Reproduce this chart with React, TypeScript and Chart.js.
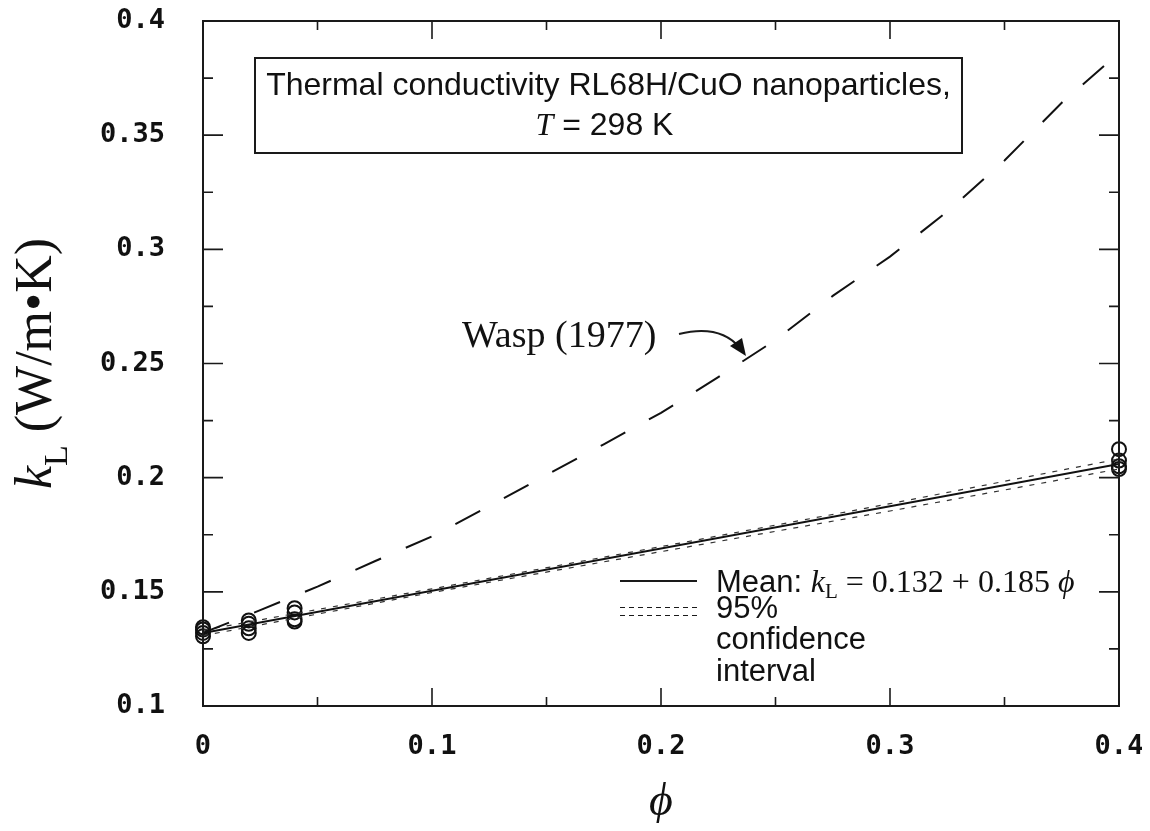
import React, { useEffect, useRef } from "react";
import { Chart, registerables } from "chart.js";
Chart.register(...registerables);

// ---- data ----
const measuredPhi = [0, 0, 0, 0, 0.02, 0.02, 0.02, 0.02, 0.04, 0.04, 0.04, 0.04, 0.4, 0.4, 0.4, 0.4];
const measuredK = [0.1305, 0.132, 0.1335, 0.1345, 0.132, 0.134, 0.136, 0.1375, 0.137, 0.138, 0.141, 0.1428, 0.2038, 0.205, 0.2075, 0.2125];

const meanPhi = [0, 0.4];
const meanK = [0.132, 0.206];

const ciPhi = [0, 0.1, 0.2, 0.3, 0.4];
const ciUpperK = [0.1332, 0.1513, 0.1698, 0.1886, 0.2082];
const ciLowerK = [0.1308, 0.1497, 0.1676, 0.1854, 0.2038];

const waspPhi = [0, 0.025, 0.05, 0.075, 0.1, 0.125, 0.15, 0.175, 0.2, 0.225, 0.25, 0.275, 0.3, 0.325, 0.35, 0.375, 0.4];
const waspK = [0.132, 0.142, 0.1523, 0.1634, 0.1743, 0.1875, 0.2012, 0.2146, 0.2284, 0.244, 0.2603, 0.2796, 0.2968, 0.3165, 0.3389, 0.3642, 0.386];

const xTickLabels = ["0", "0.1", "0.2", "0.3", "0.4"];
const yTickLabels = ["0.1", "0.15", "0.2", "0.25", "0.3", "0.35", "0.4"];

const titleLine1 = "Thermal conductivity RL68H/CuO nanoparticles,";
const waspLabel = "Wasp (1977)";
const legendLines = ["95%", "confidence", "interval"];

const SERIF = '"Liberation Serif", "Times New Roman", serif';
const SANS = '"Liberation Sans", Arial, sans-serif';
const TICKFONT = '"DejaVu Sans Mono", monospace';

type Run = { t: string; font: string; dy?: number };

function runsWidth(ctx: CanvasRenderingContext2D, runs: Run[]) {
  let w = 0;
  for (const r of runs) {
    ctx.font = r.font;
    w += ctx.measureText(r.t).width;
  }
  return w;
}

function drawRuns(ctx: CanvasRenderingContext2D, runs: Run[], x: number, y: number, align: "left" | "center") {
  let cx = align === "center" ? x - runsWidth(ctx, runs) / 2 : x;
  ctx.textAlign = "left";
  ctx.textBaseline = "alphabetic";
  for (const r of runs) {
    ctx.font = r.font;
    ctx.fillText(r.t, cx, y + (r.dy || 0));
    cx += ctx.measureText(r.t).width;
  }
}

const decorPlugin = {
  id: "decor",
  afterDatasetsDraw(chart: any) {
    const { ctx, chartArea: a, scales } = chart;
    const xs = scales.x;
    const ys = scales.y;
    ctx.save();
    ctx.strokeStyle = "#1a1a1a";
    ctx.fillStyle = "#111";

    // frame
    ctx.lineWidth = 2;
    ctx.strokeRect(a.left, a.top, a.right - a.left, a.bottom - a.top);

    // inward ticks
    ctx.lineWidth = 1.6;
    ctx.beginPath();
    const xStep = 0.05;
    const nx = Math.round((xs.max - xs.min) / xStep);
    for (let i = 0; i <= nx; i++) {
      const px = xs.getPixelForValue(xs.min + i * xStep);
      const len = i % 2 === 0 ? 18 : 9;
      ctx.moveTo(px, a.bottom);
      ctx.lineTo(px, a.bottom - len);
      ctx.moveTo(px, a.top);
      ctx.lineTo(px, a.top + len);
    }
    const yStep = 0.025;
    const ny = Math.round((ys.max - ys.min) / yStep);
    for (let i = 0; i <= ny; i++) {
      const py = ys.getPixelForValue(ys.min + i * yStep);
      const len = i % 2 === 0 ? 20 : 10;
      ctx.moveTo(a.left, py);
      ctx.lineTo(a.left + len, py);
      ctx.moveTo(a.right, py);
      ctx.lineTo(a.right - len, py);
    }
    ctx.stroke();

    // title box
    const bx = 247, by = 50, bw = 707, bh = 95;
    ctx.fillStyle = "#fff";
    ctx.fillRect(bx, by, bw, bh);
    ctx.lineWidth = 2;
    ctx.strokeRect(bx, by, bw, bh);
    ctx.fillStyle = "#111";
    const bcx = bx + bw / 2;
    drawRuns(ctx, [{ t: titleLine1, font: `32px ${SANS}` }], bcx, 87, "center");
    drawRuns(ctx, [
      { t: "T", font: `italic 32px ${SERIF}` },
      { t: " = 298 K", font: `32px ${SANS}` },
    ], bcx - 4, 127, "center");

    // Wasp label and curved arrow
    drawRuns(ctx, [{ t: waspLabel, font: `38px ${SERIF}` }], 454, 339, "left");
    ctx.lineWidth = 2;
    ctx.beginPath();
    ctx.moveTo(671, 326);
    ctx.quadraticCurveTo(712, 316, 732, 340);
    ctx.stroke();
    ctx.beginPath();
    ctx.moveTo(738, 348);
    ctx.lineTo(722, 338);
    ctx.lineTo(734, 330);
    ctx.closePath();
    ctx.fillStyle = "#111";
    ctx.fill();

    // legend
    ctx.lineWidth = 2;
    ctx.setLineDash([]);
    ctx.beginPath();
    ctx.moveTo(612, 573);
    ctx.lineTo(689, 573);
    ctx.stroke();
    ctx.lineWidth = 1.2;
    ctx.setLineDash([5, 4]);
    ctx.beginPath();
    ctx.moveTo(612, 599.5);
    ctx.lineTo(689, 599.5);
    ctx.moveTo(612, 607.5);
    ctx.lineTo(689, 607.5);
    ctx.stroke();
    ctx.setLineDash([]);
    drawRuns(ctx, [
      { t: "Mean: ", font: `31px ${SANS}` },
      { t: "k", font: `italic 32px ${SERIF}` },
      { t: "L", font: `21px ${SERIF}`, dy: 6 },
      { t: " = 0.132 + 0.185 ", font: `32px ${SERIF}` },
      { t: "\u03D5", font: `italic 32px ${SERIF}` },
    ], 708, 584, "left");
    drawRuns(ctx, [{ t: legendLines[0], font: `31px ${SANS}` }], 708, 610, "left");
    drawRuns(ctx, [{ t: legendLines[1], font: `31px ${SANS}` }], 708, 641, "left");
    drawRuns(ctx, [{ t: legendLines[2], font: `31px ${SANS}` }], 708, 673, "left");

    // x axis title
    drawRuns(ctx, [{ t: "\u03D5", font: `italic 46px ${SERIF}` }], (a.left + a.right) / 2, 807, "center");

    // y axis title (rotated)
    ctx.save();
    ctx.translate(43, (a.top + a.bottom) / 2);
    ctx.rotate(-Math.PI / 2);
    drawRuns(ctx, [
      { t: "k", font: `italic 52px ${SERIF}` },
      { t: "L", font: `34px ${SERIF}`, dy: 16 },
      { t: " (W/m\u2022K)", font: `52px ${SERIF}` },
    ], 0, 0, "center");
    ctx.restore();

    ctx.restore();
  },
};

const zeroPad = (s: any) => {
  s.paddingTop = 0;
  s.paddingBottom = 0;
  s.paddingLeft = 0;
  s.paddingRight = 0;
};

export default function App() {
  const ref = useRef<HTMLCanvasElement | null>(null);
  useEffect(() => {
    if (!ref.current) return;
    const toPts = (xs: number[], ys: number[]) => xs.map((x, i) => ({ x, y: ys[i] }));
    const chart = new Chart(ref.current, {
      type: "scatter",
      data: {
        datasets: [
          {
            label: "Wasp (1977)",
            data: toPts(waspPhi, waspK),
            showLine: true,
            borderColor: "#111",
            borderWidth: 2,
            borderDash: [28, 27],
            pointRadius: 0,
            fill: false,
          },
          {
            label: "CI upper",
            data: toPts(ciPhi, ciUpperK),
            showLine: true,
            borderColor: "#333",
            borderWidth: 1.2,
            borderDash: [5, 7],
            pointRadius: 0,
          },
          {
            label: "CI lower",
            data: toPts(ciPhi, ciLowerK),
            showLine: true,
            borderColor: "#333",
            borderWidth: 1.2,
            borderDash: [5, 7],
            pointRadius: 0,
          },
          {
            label: "Mean",
            data: toPts(meanPhi, meanK),
            showLine: true,
            borderColor: "#111",
            borderWidth: 2,
            pointRadius: 0,
          },
          {
            label: "Measured",
            data: toPts(measuredPhi, measuredK),
            showLine: false,
            pointStyle: "circle",
            pointRadius: 7,
            borderWidth: 2,
            borderColor: "#111",
            backgroundColor: "rgba(0,0,0,0)",
            clip: false,
          } as any,
        ],
      },
      options: {
        animation: false,
        responsive: false,
        layout: { padding: { top: 13, right: 23, left: 0, bottom: 0 } },
        plugins: {
          legend: { display: false },
          tooltip: { enabled: false },
          title: { display: false },
        },
        scales: {
          x: {
            type: "linear",
            position: "bottom",
            min: 0,
            max: 0.4,
            grid: { display: false, drawTicks: false },
            border: { display: false },
            afterFit: (s: any) => { s.height = 117; zeroPad(s); },
            ticks: {
              stepSize: 0.1,
              autoSkip: false,
              maxRotation: 0,
              padding: 25,
              color: "#111",
              font: { family: TICKFONT, size: 27, weight: "bold" },
              callback: (_v: any, i: number) => xTickLabels[i],
            },
          },
          y: {
            type: "linear",
            position: "left",
            min: 0.1,
            max: 0.4,
            grid: { display: false, drawTicks: false },
            border: { display: false },
            afterFit: (s: any) => { s.width = 195; zeroPad(s); },
            ticks: {
              stepSize: 0.05,
              autoSkip: false,
              padding: 38,
              color: "#111",
              font: { family: TICKFONT, size: 27, weight: "bold" },
              callback: (_v: any, i: number) => yTickLabels[i],
            },
          },
        },
      },
      plugins: [decorPlugin],
    });
    return () => chart.destroy();
  }, []);
  return (
    <div style={{ width: 1134, height: 815 }}>
      <canvas ref={ref} width={1134} height={815} style={{ display: "block" }} />
    </div>
  );
}
